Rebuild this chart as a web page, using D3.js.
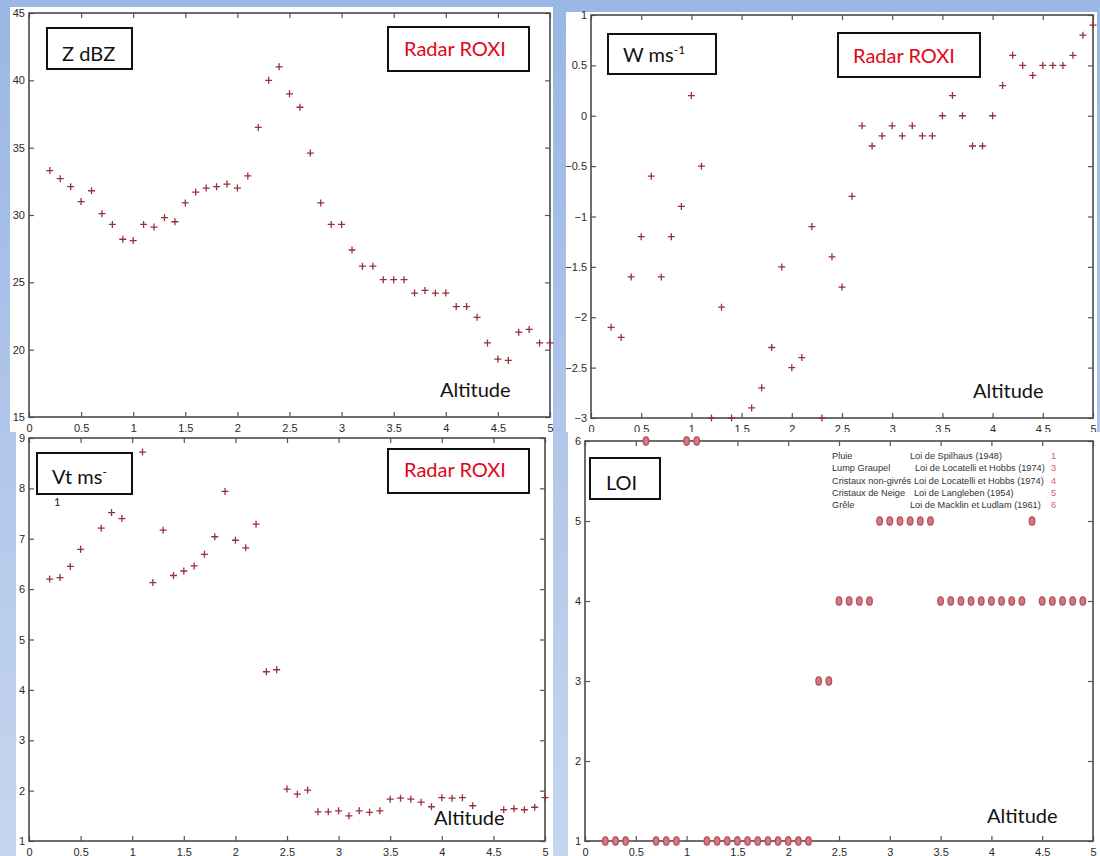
<!DOCTYPE html>
<html>
<head>
<meta charset="utf-8">
<script src="https://cdn.jsdelivr.net/npm/d3@7"></script>
<style>
  html, body { margin: 0; padding: 0; }
  body { width: 1100px; height: 856px; overflow: hidden; }
  svg { display: block; }
  .tick text { font-family: "Liberation Sans", Arial, sans-serif; font-size: 11px; fill: #2a2a2a; }
  .tick line { stroke: #555; stroke-width: 1.2; }
</style>
</head>
<body>
<svg id="chart" width="1100" height="856"></svg>
<script>
// Altitude (km) profiles measured by the ROXI radar
const zAlt = [0.2,0.3,0.4,0.5,0.6,0.7,0.8,0.9,1.0,1.1,1.2,1.3,1.4,1.5,1.6,1.7,1.8,1.9,2.0,2.1,2.2,2.3,2.4,2.5,2.6,2.7,2.8,2.9,3.0,3.1,3.2,3.3,3.4,3.5,3.6,3.7,3.8,3.9,4.0,4.1,4.2,4.3,4.4,4.5,4.6,4.7,4.8,4.9,5.0];
const zVal = [33.3,32.7,32.1,31.0,31.8,30.1,29.3,28.2,28.1,29.3,29.1,29.8,29.5,30.9,31.7,32.0,32.1,32.3,32.0,32.9,36.5,40.0,41.0,39.0,38.0,34.6,30.9,29.3,29.3,27.4,26.2,26.2,25.2,25.2,25.2,24.2,24.4,24.2,24.2,23.2,23.2,22.4,20.5,19.3,19.2,21.3,21.5,20.5,20.5];

const wAlt = [0.2,0.3,0.4,0.5,0.6,0.7,0.8,0.9,1.0,1.1,1.2,1.3,1.4,1.6,1.7,1.8,1.9,2.0,2.1,2.2,2.3,2.4,2.5,2.6,2.7,2.8,2.9,3.0,3.1,3.2,3.3,3.4,3.5,3.6,3.7,3.8,3.9,4.0,4.1,4.2,4.3,4.4,4.5,4.6,4.7,4.8,4.9,5.0];
const wVal = [-2.1,-2.2,-1.6,-1.2,-0.6,-1.6,-1.2,-0.9,0.2,-0.5,-3.0,-1.9,-3.0,-2.9,-2.7,-2.3,-1.5,-2.5,-2.4,-1.1,-3.0,-1.4,-1.7,-0.8,-0.1,-0.3,-0.2,-0.1,-0.2,-0.1,-0.2,-0.2,0.0,0.2,0.0,-0.3,-0.3,0.0,0.3,0.6,0.5,0.4,0.5,0.5,0.5,0.6,0.8,0.9];

const vtAlt = [0.2,0.3,0.4,0.5,0.7,0.8,0.9,1.1,1.2,1.3,1.4,1.5,1.6,1.7,1.8,1.9,2.0,2.1,2.2,2.3,2.4,2.5,2.6,2.7,2.8,2.9,3.0,3.1,3.2,3.3,3.4,3.5,3.6,3.7,3.8,3.9,4.0,4.1,4.2,4.3,4.6,4.7,4.8,4.9,5.0];
const vtVal = [6.2,6.23,6.45,6.79,7.21,7.52,7.4,8.72,6.13,7.17,6.27,6.36,6.46,6.69,7.04,7.94,6.97,6.82,7.29,4.36,4.4,2.03,1.93,2.01,1.58,1.58,1.6,1.5,1.6,1.57,1.6,1.83,1.85,1.83,1.77,1.68,1.86,1.85,1.86,1.7,1.62,1.64,1.62,1.67,1.86];

const loiAlt = [0.2,0.3,0.4,0.6,0.7,0.8,0.9,1.0,1.1,1.2,1.3,1.4,1.5,1.6,1.7,1.8,1.9,2.0,2.1,2.2,2.3,2.4,2.5,2.6,2.7,2.8,2.9,3.0,3.1,3.2,3.3,3.4,3.5,3.6,3.7,3.8,3.9,4.0,4.1,4.2,4.3,4.4,4.5,4.6,4.7,4.8,4.9];
const loiVal = [1,1,1,6,1,1,1,6,6,1,1,1,1,1,1,1,1,1,1,1,3,3,4,4,4,4,5,5,5,5,5,5,4,4,4,4,4,4,4,4,4,5,4,4,4,4,4];

// Tick values
const altTicks = [0,0.5,1,1.5,2,2.5,3,3.5,4,4.5,5];
const zTicks = [15,20,25,30,35,40,45];
const wTicks = [-3,-2.5,-2,-1.5,-1,-0.5,0,0.5,1];
const vtTicks = [1,2,3,4,5,6,7,8,9];
const loiTicks = [1,2,3,4,5,6];

// Fall-speed law legend
const legendTypes = ["Pluie","Lump Graupel","Cristaux non-givrés","Cristaux de Neige","Grêle"];
const legendLaws = ["Loi de Spilhaus (1948)","Loi de Locatelli et Hobbs (1974)","Loi de Locatelli et Hobbs (1974)","Loi de Langleben (1954)","Loi de Macklin et Ludlam (1961)"];
const legendCodes = ["1","3","4","5","6"];

const svg = d3.select("#chart");

// Slide-style blue backdrop
const defs = svg.append("defs");
const grad = defs.append("linearGradient").attr("id","bg").attr("x1",0).attr("y1",0).attr("x2",0).attr("y2",1);
grad.append("stop").attr("offset","0%").attr("stop-color","#9ab6e4");
grad.append("stop").attr("offset","100%").attr("stop-color","#c6d6ef");
svg.append("rect").attr("width",1100).attr("height",856).attr("fill","url(#bg)");

const panels = [
  { sheet:[10,7,553,432],  frame:[29,13,550,417],  yDomain:[15,45], yTicks:zTicks,  xs:zAlt,  ys:zVal,  mark:"plus",
    titleBox:[47,28,132,69], title:"Z dBZ", titleX:62, titleY:61,
    radarBox:[388,27,529,71], radarX:404, radarY:56, altX:440, altY:397 },
  { sheet:[566,12,1097,432], frame:[591,15,1093,418], yDomain:[-3,1], yTicks:wTicks, xs:wAlt, ys:wVal, mark:"plus",
    titleBox:[608,34,716,74], title:"W ms", sup:"-1", titleX:623, titleY:62,
    radarBox:[838,33,980,77], radarX:853, radarY:63, altX:973, altY:398 },
  { sheet:[16,432,553,856], frame:[29,438,545,841], yDomain:[1,9], yTicks:vtTicks, xs:vtAlt, ys:vtVal, mark:"plus",
    titleBox:[37,453,132,494], title:"Vt ms", sup:"-", titleX:52, titleY:484, under:"1",
    radarBox:[388,449,529,493], radarX:404, radarY:477, altX:434, altY:825 },
  { sheet:[568,432,1100,856], frame:[585,441,1093,841], yDomain:[1,6], yTicks:loiTicks, xs:loiAlt, ys:loiVal, mark:"oval",
    titleBox:[590,458,660,499], title:"LOI", titleX:606, titleY:490,
    altX:987, altY:823, legend:true }
];

panels.forEach(p => {
  const [sx0, sy0, sx1, sy1] = p.sheet;
  svg.append("rect").attr("x",sx0).attr("y",sy0).attr("width",sx1-sx0).attr("height",sy1-sy0).attr("fill","#fff");

  const [fx0, fy0, fx1, fy1] = p.frame;
  const x = d3.scaleLinear().domain([0,5]).range([fx0,fx1]);
  const y = d3.scaleLinear().domain(p.yDomain).range([fy1,fy0]);
  const g = svg.append("g");

  const fmt = d3.format("");
  // Labelled axes (bottom, left) with ticks pointing into the frame
  g.append("g").attr("transform",`translate(0,${fy1})`)
    .call(d3.axisBottom(x).tickValues(altTicks).tickFormat(fmt).tickSizeInner(-5).tickSizeOuter(0).tickPadding(7))
    .call(a => a.select(".domain").remove());
  g.append("g").attr("transform",`translate(${fx0},0)`)
    .call(d3.axisLeft(y).tickValues(p.yTicks).tickFormat(fmt).tickSizeInner(-5).tickSizeOuter(0).tickPadding(4))
    .call(a => a.select(".domain").remove());
  // Mirrored ticks (top, right)
  g.append("g").attr("transform",`translate(0,${fy0})`)
    .call(d3.axisTop(x).tickValues(altTicks).tickFormat("").tickSizeInner(-5).tickSizeOuter(0))
    .call(a => a.select(".domain").remove());
  g.append("g").attr("transform",`translate(${fx1},0)`)
    .call(d3.axisRight(y).tickValues(p.yTicks).tickFormat("").tickSizeInner(-5).tickSizeOuter(0))
    .call(a => a.select(".domain").remove());

  g.append("rect").attr("x",fx0).attr("y",fy0).attr("width",fx1-fx0).attr("height",fy1-fy0)
    .attr("fill","none").attr("stroke","#4a4a4a").attr("stroke-width",1.6);

  const pts = p.xs.map((v,i) => [v, p.ys[i]]);
  if (p.mark === "plus") {
    const s = 3.5;
    g.append("g").selectAll("path").data(pts).join("path")
      .attr("d", d => {
        const cx = x(d[0]), cy = y(d[1]);
        return `M${cx-s},${cy}H${cx+s}M${cx},${cy-s}V${cy+s}`;
      })
      .attr("stroke","#9a2f3c").attr("stroke-width",1.3).attr("fill","none");
  } else {
    g.append("g").selectAll("ellipse").data(pts).join("ellipse")
      .attr("cx", d => x(d[0])).attr("cy", d => y(d[1]))
      .attr("rx",2.8).attr("ry",4.2)
      .attr("fill","#cf7a84").attr("stroke","#bb4d5a").attr("stroke-width",1.3);
  }

  // Variable label box
  const [bx0, by0, bx1, by1] = p.titleBox;
  svg.append("rect").attr("x",bx0).attr("y",by0).attr("width",bx1-bx0).attr("height",by1-by0)
    .attr("fill","#fff").attr("stroke","#111").attr("stroke-width",2);
  const t = svg.append("text").attr("x",p.titleX).attr("y",p.titleY)
    .attr("font-family","Lato, 'Open Sans', sans-serif").attr("font-size",20).attr("fill","#111")
    .text(p.title);
  if (p.sup) {
    t.append("tspan").attr("font-size",12).attr("dy",-8).text(p.sup);
  }
  if (p.under) {
    svg.append("text").attr("x",p.titleX+2).attr("y",by1+12)
      .attr("font-family","Lato, 'Open Sans', sans-serif").attr("font-size",11).attr("fill","#222")
      .text(p.under);
  }

  if (p.radarBox) {
    const [rx0, ry0, rx1, ry1] = p.radarBox;
    svg.append("rect").attr("x",rx0).attr("y",ry0).attr("width",rx1-rx0).attr("height",ry1-ry0)
      .attr("fill","#fff").attr("stroke","#111").attr("stroke-width",2);
    svg.append("text").attr("x",p.radarX).attr("y",p.radarY)
      .attr("font-family","Lato, 'Open Sans', sans-serif").attr("font-size",20).attr("fill","#e2061b")
      .text("Radar ROXI");
  }

  svg.append("text").attr("x",p.altX).attr("y",p.altY)
    .attr("font-family","Lato, 'Open Sans', sans-serif").attr("font-size",20).attr("fill","#111")
    .text("Altitude");

  if (p.legend) {
    const lg = svg.append("g").attr("font-family","'Liberation Sans', Arial, sans-serif").attr("font-size",9.2);
    const rowY = d3.scaleLinear().domain([0,4]).range([459,508]);
    const lawX = [910,915,914,914,910];
    legendTypes.forEach((name,i) => {
      lg.append("text").attr("x",832).attr("y",rowY(i)).attr("fill","#333").text(name);
      lg.append("text").attr("x",lawX[i]).attr("y",rowY(i)).attr("fill","#333").text(legendLaws[i]);
      lg.append("text").attr("x",1051).attr("y",rowY(i)).attr("fill","#d0606c").text(legendCodes[i]);
    });
  }
});
</script>
</body>
</html>
